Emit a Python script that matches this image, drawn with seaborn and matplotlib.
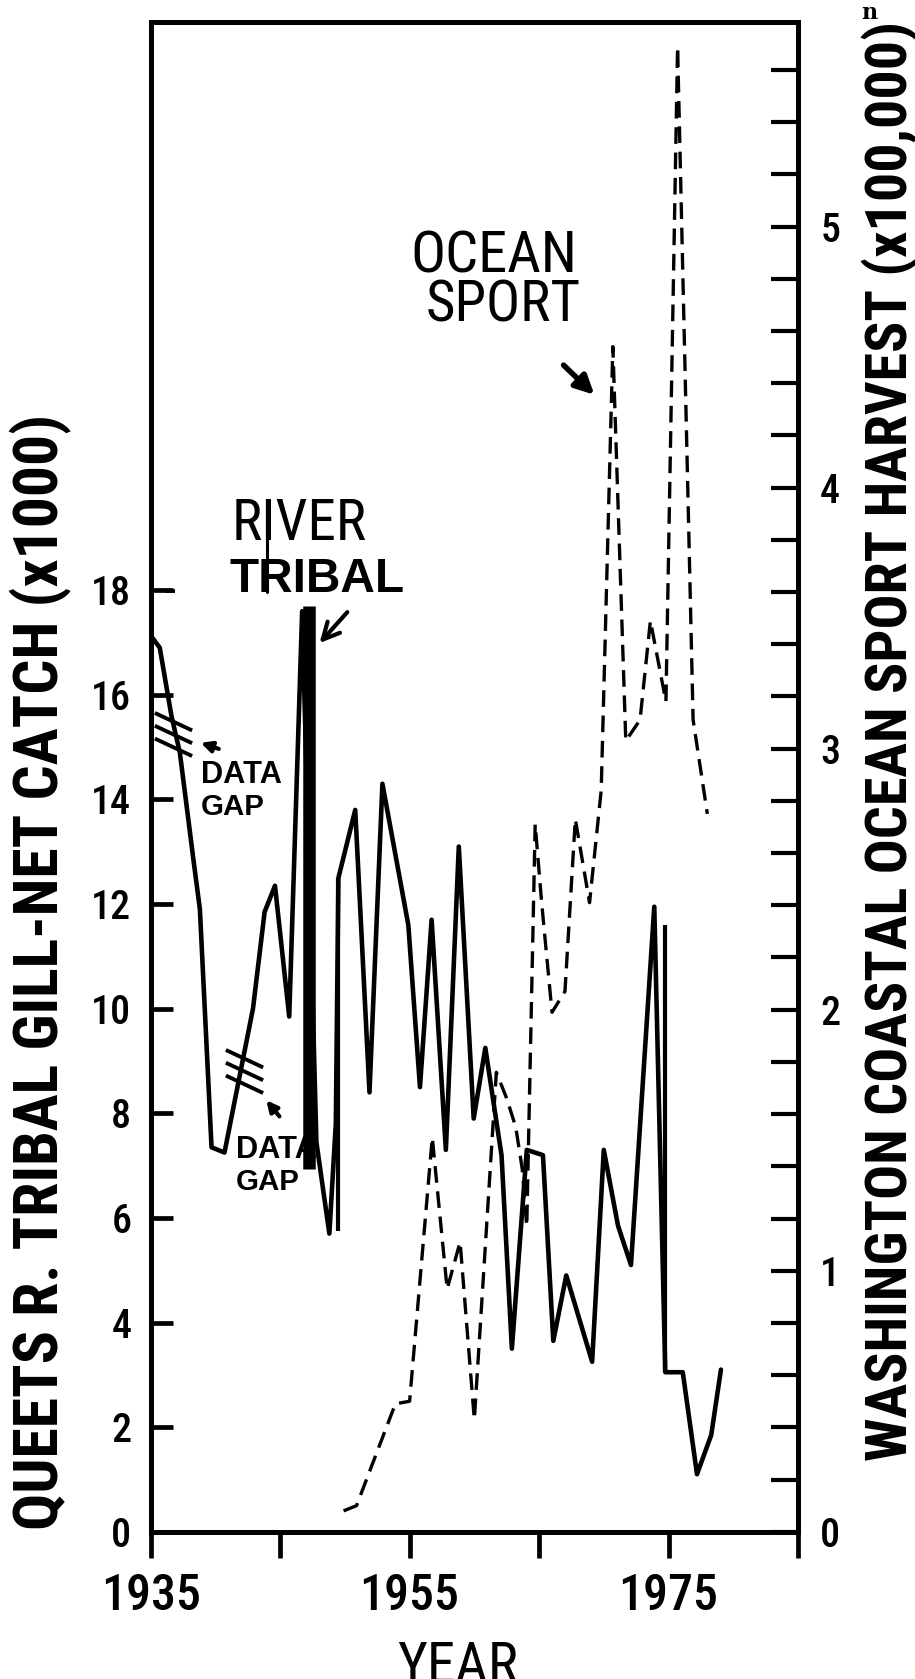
import os
import numpy as np
import pandas as pd
import matplotlib
matplotlib.use("Agg")
import matplotlib.pyplot as plt
import seaborn as sns
from matplotlib import font_manager
from matplotlib.font_manager import FontProperties
from matplotlib.path import Path
from matplotlib.ticker import FixedLocator, FixedFormatter

# ---------------- data ----------------
tribal_years = [1935.1, 1935.7, 1936.6, 1937.25, 1938.3, 1938.8, 1939.7, 1940.7,
                1942.9, 1943.8, 1944.6, 1945.7, 1946.7, 1947.8, 1948.8, 1949.3,
                1949.5, 1950.8, 1951.9, 1952.9, 1954.9, 1955.8, 1956.7, 1957.8,
                1958.8, 1959.95, 1960.85, 1961.7, 1962.1, 1962.9, 1964.05, 1965.3,
                1966.1, 1967.1, 1969.1, 1970.0, 1971.1, 1972.1, 1973.9, 1974.75,
                1976.1, 1977.2, 1978.3, 1979.05]
tribal_catch = [17.1, 16.9, 15.6, 14.9, 12.85, 11.9, 7.35, 7.25,
                10.0, 11.85, 12.35, 9.85, 17.6, 7.45, 5.7, 7.8,
                12.5, 13.8, 8.4, 14.3, 11.6, 8.5, 11.7, 7.3,
                13.1, 7.9, 9.25, 7.85, 7.2, 3.5, 7.3, 7.2,
                3.65, 4.9, 3.25, 7.3, 5.85, 5.1, 11.95, 3.05,
                3.05, 1.1, 1.85, 3.1]

ocean_years = [1949.9, 1950.9, 1953.9, 1955.0, 1956.75, 1957.9, 1958.9, 1960.0,
               1961.7, 1962.5, 1963.2, 1963.7, 1964.05, 1964.7, 1965.2, 1966.0,
               1967.0, 1967.8, 1968.9, 1969.8, 1970.7, 1971.7, 1972.8, 1973.6,
               1974.8, 1975.7, 1976.9, 1978.0]
ocean_harvest = [0.08, 0.10, 0.49, 0.50, 1.51, 0.93, 1.11, 0.43,
                 1.76, 1.66, 1.55, 1.39, 1.17, 2.71, 2.41, 1.99,
                 2.07, 2.73, 2.41, 2.84, 4.54, 3.03, 3.11, 3.49,
                 3.18, 5.69, 3.11, 2.75]

# vertical strokes on the river tribal series
spike_years = [1947.25, 1949.43, 1974.7]
spike_low = [6.93, 5.75, 3.05]
spike_high = [17.7, 12.5, 11.6]
spike_widths = [9.0, 3.0, 3.0]

# data gap break marks
gap_years = [1936.75, 1942.2]
gap_catch = [15.25, 8.8]

x_ticks = [1935, 1945, 1955, 1965, 1975, 1985]
x_ticklabels = ["1935", "", "1955", "", "1975", ""]
left_ticks = [0, 2, 4, 6, 8, 10, 12, 14, 16, 18]
left_ticklabels = ["0", "2", "4", "6", "8", "10", "12", "14", "16", "18"]
right_ticks = [0.0, 0.2, 0.4, 0.6, 0.8, 1.0, 1.2, 1.4, 1.6, 1.8, 2.0, 2.2, 2.4, 2.6,
               2.8, 3.0, 3.2, 3.4, 3.6, 3.8, 4.0, 4.2, 4.4, 4.6, 4.8, 5.0, 5.2, 5.4, 5.6]
right_ticklabels = ["0", "", "", "", "", "1", "", "", "", "", "2", "", "", "", "",
                    "3", "", "", "", "", "4", "", "", "", "", "5", "", "", ""]

# ---------------- fonts ----------------
sns.set_style("ticks")
plt.rcParams["font.family"] = ["DejaVu Sans"]
for k in ("axes.edgecolor", "xtick.color", "ytick.color", "text.color", "axes.labelcolor"):
    plt.rcParams[k] = "black"


def find_narrow(weight):
    order = ["liberationsansnarrow", "robotocondensed", "dejavusanscondensed",
             "notosans-condensed", "opensans-cond", "condensed", "narrow"]
    others = {"regular": ("bold", "medium", "light", "semi", "extra", "black", "thin"),
              "bold": ("medium", "light", "semi", "extra", "black", "thin"),
              "medium": ("bold", "light", "semi", "extra", "black", "thin")}[weight]
    best = None
    for f in font_manager.fontManager.ttflist:
        fn = os.path.basename(f.fname).lower()
        if not ("narrow" in fn or "cond" in fn):
            continue
        if any(w in fn for w in ("italic", "oblique", "serif", "mono")):
            continue
        if any(w in fn for w in others):
            continue
        if weight != "regular" and weight not in fn:
            continue
        for rank, key in enumerate(order):
            if key in fn:
                if best is None or rank < best[0]:
                    best = (rank, f.fname)
                break
    return best[1] if best else None


NARROW_REG = find_narrow("regular")
NARROW_BOLD = find_narrow("bold")
NARROW_MED = find_narrow("medium") or NARROW_REG


def fp_narrow(size, weight="regular"):
    path = {"regular": NARROW_REG, "bold": NARROW_BOLD, "medium": NARROW_MED}[weight]
    if path:
        return FontProperties(fname=path, size=size)
    return FontProperties(family="DejaVu Sans",
                          weight="bold" if weight == "bold" else "normal", size=size)


def fp_wide(size, bold=False):
    return FontProperties(family=["Liberation Sans", "DejaVu Sans"],
                          weight="bold" if bold else "normal", size=size)


# ---------------- figure ----------------
fig = plt.figure(figsize=(9.15, 16.79), dpi=100)
ax = fig.add_axes([0.1647, 0.0877, 0.7074, 0.8994])
ax2 = ax.twinx()

tribal = pd.DataFrame({"year": tribal_years, "catch": tribal_catch})
ocean = pd.DataFrame({"year": ocean_years, "harvest": ocean_harvest})

sns.lineplot(data=tribal, x="year", y="catch", ax=ax, color="black",
             linewidth=3.3, estimator=None, sort=False)
for yr, lo, hi, w in zip(spike_years, spike_low, spike_high, spike_widths):
    ax.plot([yr, yr], [lo, hi], color="black", linewidth=w, solid_capstyle="butt")

sns.lineplot(data=ocean, x="year", y="harvest", ax=ax2, color="black",
             linewidth=2.4, estimator=None, sort=False, linestyle=(0, (5, 2.6)))

gap_path = Path([(-16, 7.5 + 11), (16, -7.5 + 11),
                 (-16, 7.5), (16, -7.5),
                 (-16, 7.5 - 11), (16, -7.5 - 11)],
                [Path.MOVETO, Path.LINETO, Path.MOVETO, Path.LINETO,
                 Path.MOVETO, Path.LINETO])
ax.plot(gap_years, gap_catch, linestyle="none", marker=gap_path,
        markersize=31, markeredgewidth=2.8, markeredgecolor="black",
        markerfacecolor="none")

# ---------------- axes ----------------
ax.set_xlim(1935, 1985)
ax.set_ylim(0, 28.87)
ax2.set_ylim(0, 5.785)
ax.xaxis.set_major_locator(FixedLocator(x_ticks))
ax.xaxis.set_major_formatter(FixedFormatter(x_ticklabels))
ax.yaxis.set_major_locator(FixedLocator(left_ticks))
ax.yaxis.set_major_formatter(FixedFormatter(left_ticklabels))
ax2.yaxis.set_major_locator(FixedLocator(right_ticks))
ax2.yaxis.set_major_formatter(FixedFormatter(right_ticklabels))

for a in (ax, ax2):
    for s in a.spines.values():
        s.set_linewidth(3.6)
        s.set_color("black")
        s.set_visible(True)

ax.tick_params(axis="x", direction="out", length=19, width=3.4, pad=11)
ax.tick_params(axis="y", direction="in", length=16, width=3.4, pad=14)
ax2.tick_params(axis="y", direction="in", length=19.5, width=3.0, pad=16)

xt = ax.get_xticklabels()
yt = ax.get_yticklabels()
rt = ax2.get_yticklabels()
for lbl in xt:
    lbl.set_fontproperties(fp_narrow(38, "medium"))
for lbl in yt + rt:
    lbl.set_fontproperties(fp_narrow(35, "medium"))

xlab = ax.set_xlabel("YEAR", fontproperties=fp_narrow(40))
ax.xaxis.set_label_coords(0.475, -0.0717)
ylab = ax.set_ylabel("QUEETS R. TRIBAL GILL-NET CATCH (x1000)",
                     fontproperties=fp_narrow(44, "bold"))
ax.yaxis.set_label_coords(-0.122, 0.371)
rlab = ax2.set_ylabel("WASHINGTON COASTAL OCEAN SPORT HARVEST (x100,000)",
                      fontproperties=fp_narrow(42, "bold"))
ax2.yaxis.set_label_coords(1.098, 0.5235)

# ---------------- annotations ----------------
t_river = ax.text(1946.5, 18.96, "RIVER", ha="center", va="baseline",
                  fontproperties=fp_narrow(36.5))
t_tribal = ax.text(1947.83, 17.97, "TRIBAL", ha="center", va="baseline",
                   fontproperties=fp_wide(35, bold=True))
ax.plot([1944.0, 1944.0], [17.97, 18.96], color="black", linewidth=2.2)
ax.annotate("", xy=(1947.9, 16.95), xytext=(1950.33, 17.62),
            arrowprops=dict(arrowstyle="->", lw=3, mutation_scale=30, color="black"))

t_ocean = ax.text(1961.48, 24.07, "OCEAN", ha="center", va="baseline",
                  fontproperties=fp_narrow(39.5))
t_sport = ax.text(1962.2, 23.14, "SPORT", ha="center", va="baseline",
                  fontproperties=fp_narrow(39.5))
ax.annotate("", xy=(1969.43, 21.7), xytext=(1966.74, 22.34),
            arrowprops=dict(arrowstyle="-|>", lw=4, mutation_scale=28, color="black"))

gap_texts = []
for x0, yd, yg in ((1938.9, 14.31, 13.70), (1941.6, 7.14, 6.53)):
    gap_texts.append(ax.text(x0, yd, "DATA", ha="left", va="baseline",
                             fontproperties=fp_wide(22, bold=True)))
    gap_texts.append(ax.text(x0, yg, "GAP", ha="left", va="baseline",
                             fontproperties=fp_wide(22, bold=True)))
ax.annotate("", xy=(1938.66, 15.1), xytext=(1940.46, 14.95),
            arrowprops=dict(arrowstyle="-|>", lw=3, mutation_scale=16, color="black"))
ax.annotate("", xy=(1943.8, 8.29), xytext=(1945.08, 7.9),
            arrowprops=dict(arrowstyle="-|>", lw=3, mutation_scale=16, color="black"))

ax.text(1936.5, 17.97, "-", ha="center", va="center", fontsize=22, fontweight="bold")

fig.text(869 / 915, 1 - 13 / 1679, "n", ha="center", va="center", fontsize=16,
         fontweight="bold", family=["DejaVu Serif"])


# ---------------- fit text sizes to the reference extents ----------------
def fit(texts, ref, target, vertical=False):
    for _ in range(2):
        fig.canvas.draw()
        r = fig.canvas.get_renderer()
        bb = ref.get_window_extent(r)
        cur = bb.height if vertical else bb.width
        if cur <= 0:
            return
        s = target / cur
        for t in texts:
            t.set_fontsize(t.get_fontsize() * s)


fit(xt, [l for l in xt if l.get_text() == "1935"][0], 100)
fit(yt + rt, [l for l in yt if l.get_text() == "18"][0], 40)
fit([ylab], ylab, 1118, vertical=True)
fit([rlab], rlab, 1440, vertical=True)
fit([xlab], xlab, 121)
fit([t_river], t_river, 135)
fit([t_tribal], t_tribal, 175)
fit([t_ocean], t_ocean, 167)
fit([t_sport], t_sport, 155)
for t in gap_texts:
    fit([t], t, 81 if t.get_text() == "DATA" else 64)

fig.savefig("out.png", dpi=100)
